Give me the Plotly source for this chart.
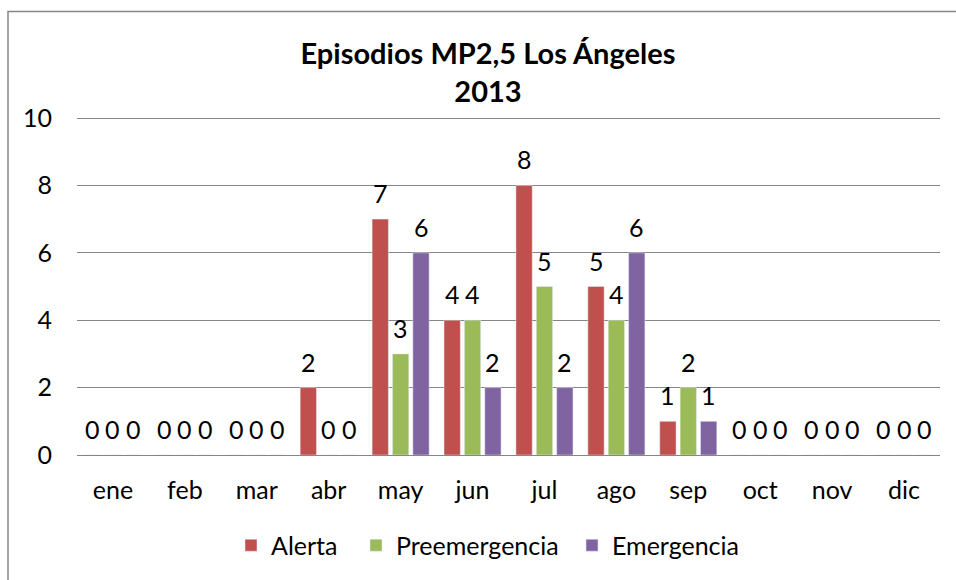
import plotly.graph_objects as go

months = ["ene", "feb", "mar", "abr", "may", "jun", "jul", "ago", "sep", "oct", "nov", "dic"]
alerta = [0, 0, 0, 2, 7, 4, 8, 5, 1, 0, 0, 0]
preemergencia = [0, 0, 0, 0, 3, 4, 5, 4, 2, 0, 0, 0]
emergencia = [0, 0, 0, 0, 6, 2, 2, 6, 1, 0, 0, 0]

series = [("Alerta", alerta, "#C0504D"),
          ("Preemergencia", preemergencia, "#9BBB59"),
          ("Emergencia", emergencia, "#8064A2")]

FONT = "Lato, Calibri, Carlito, sans-serif"
FS = 25
PLOT_L, PLOT_R, PLOT_T, PLOT_B = 77, 940, 117, 457
W, H = 956, 580
BARGAP = 0.15
cat_px = (PLOT_R - PLOT_L) / len(months)
slot_px = cat_px * (1 - BARGAP) / len(series)

legend_text_x = [271, 396, 612]
legend_names = ["legend", "legend2", "legend3"]

fig = go.Figure()
for i, (name, vals, col) in enumerate(series):
    fig.add_trace(go.Bar(
        x=months, y=vals, name=name, marker_color=col,
        legend=legend_names[i], hoverinfo="skip", showlegend=True,
    ))
    for m, v in zip(months, vals):
        fig.add_annotation(x=m, y=v, text=str(v), showarrow=False,
                           xshift=(i - 1) * slot_px, yshift=9,
                           yanchor="bottom", xanchor="center",
                           font=dict(size=FS, color="black", family=FONT))

leg_common = dict(orientation="h", yanchor="middle",
                  y=-(548 - PLOT_B) / (PLOT_B - PLOT_T),
                  font=dict(size=FS, family=FONT, color="black"),
                  itemwidth=30, bgcolor="rgba(0,0,0,0)", xanchor="left",
                  visible=True)

layout_legends = {}
for ln, tx in zip(legend_names, legend_text_x):
    layout_legends[ln] = dict(leg_common, x=(tx - 40 - PLOT_L) / (PLOT_R - PLOT_L))

fig.update_layout(
    width=W, height=H, showlegend=True,
    barmode="group", bargap=BARGAP, bargroupgap=0.2,
    plot_bgcolor="white", paper_bgcolor="white",
    margin=dict(l=PLOT_L, r=W - PLOT_R, t=PLOT_T, b=H - PLOT_B),
    font=dict(family=FONT, size=FS, color="black"),
    title=dict(text="<b>Episodios MP2,5 Los Ángeles<br>2013</b>",
               x=488/W, xref="container", xanchor="center",
               y=1-64/H, yref="container", yanchor="top",
               font=dict(size=29, family=FONT, color="black")),
    xaxis=dict(showline=False, ticks="", showgrid=False,
               tickfont=dict(size=FS), ticklabelstandoff=18),
    yaxis=dict(range=[0, 10.03], tickvals=[0, 2, 4, 6, 8, 10],
               showgrid=True, gridcolor="#868686",
               gridwidth=1, zeroline=True, zerolinecolor="#868686",
               zerolinewidth=1, ticks="", tickfont=dict(size=FS),
               ticklabelstandoff=24),
    **layout_legends,
)

fig.add_shape(type="rect", xref="paper", yref="paper",
              x0=(8 - PLOT_L) / (PLOT_R - PLOT_L), x1=1.1, y0=-0.8,
              y1=(PLOT_B - 11) / (PLOT_B - PLOT_T),
              line=dict(color="#868686", width=1.5), layer="below")

fig.write_html("out.html", config={"displayModeBar": False},
               post_script="document.body.style.margin='0';")
